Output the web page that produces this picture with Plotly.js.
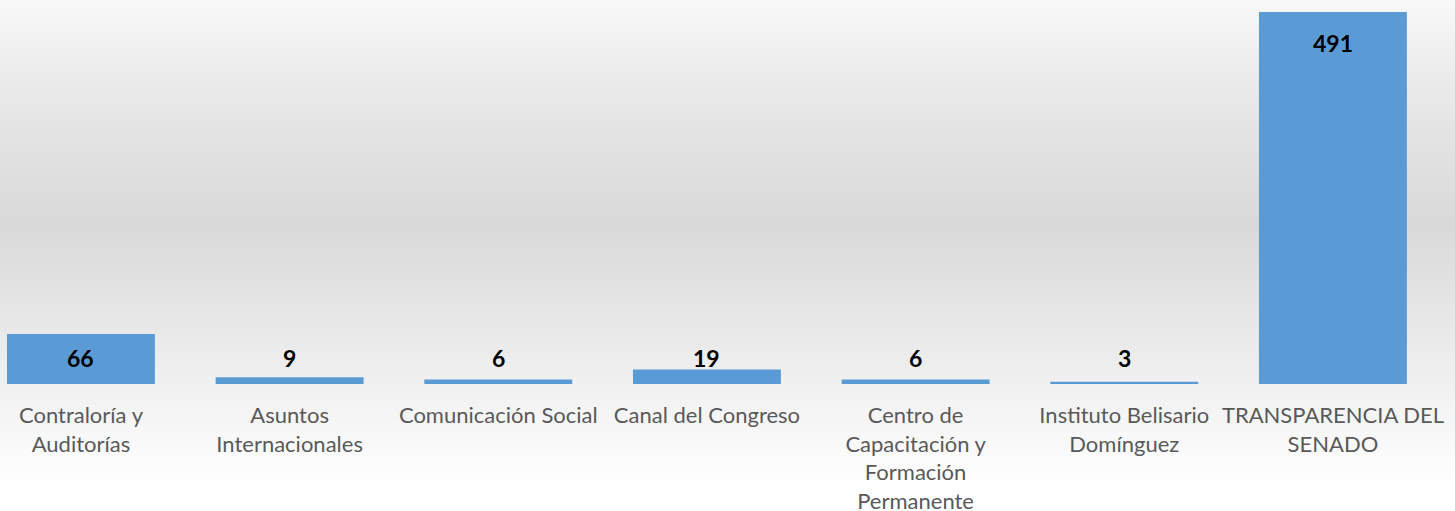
<!DOCTYPE html>
<html>
<head>
<meta charset="utf-8">
<script src="https://cdn.plot.ly/plotly-3.0.1.min.js"></script>
<style>
  html, body { margin: 0; padding: 0; }
  #plot {
    width: 1455px;
    height: 511px;
    background: linear-gradient(to bottom, #f8f8f8 0%, #e6e6e6 22%, #d9d9d9 44%, #e9e9e9 65%, #ffffff 95%);
  }
</style>
</head>
<body>
<div id="plot"></div>
<script>
(function (document, window) {

    // Categories and values
    var categorias = [
        'Contraloría y Auditorías',
        'Asuntos Internacionales',
        'Comunicación Social',
        'Canal del Congreso',
        'Centro de Capacitación y Formación Permanente',
        'Instituto Belisario Domínguez',
        'TRANSPARENCIA DEL SENADO'
    ];
    var etiquetas = [
        'Contraloría y<br>Auditorías',
        'Asuntos<br>Internacionales',
        'Comunicación Social',
        'Canal del Congreso',
        'Centro de<br>Capacitación y<br>Formación<br>Permanente',
        'Instituto Belisario<br>Domínguez',
        'TRANSPARENCIA DEL<br>SENADO'
    ];
    var valores = [66, 9, 6, 19, 6, 3, 491];

    var plotHeight = 511 - 12 - 127;
    var pxPerUnit = plotHeight / 491;

    // value labels: inside end, but never lower than near the baseline
    var notas = valores.map(function (v, i) {
        var y = Math.max(v - 31 / pxPerUnit, 26 / pxPerUnit);
        return {
            x: i, y: y, xref: 'x', yref: 'y',
            text: '<b>' + v + '</b>',
            showarrow: false,
            yanchor: 'middle',
            font: { family: 'Lato, sans-serif', size: 23, color: '#000000' }
        };
    });

    var layout = {
        width: 1455,
        height: 511,
        margin: { l: 0, r: 0, t: 12, b: 127 },
        paper_bgcolor: 'rgba(0,0,0,0)',
        plot_bgcolor: 'rgba(0,0,0,0)',
        showlegend: false,
        xaxis: {
            type: 'linear',
            range: [-0.388, 6.585],
            tickvals: [0, 1, 2, 3, 4, 5, 6],
            ticktext: etiquetas,
            showgrid: false,
            zeroline: false,
            showline: false,
            ticks: '',
            ticklabelstandoff: 16,
            tickfont: { family: 'Lato, sans-serif', size: 22, color: '#595959' }
        },
        yaxis: {
            range: [0, 491],
            visible: false,
            showgrid: false,
            zeroline: false
        },
        annotations: notas
    };

    var trace = {
        type: 'bar',
        x: [0, 1, 2, 3, 4, 5, 6],
        y: valores,
        width: 0.709,
        text: categorias,
        hoverinfo: 'text+y',
        textposition: 'none',
        marker: { color: '#5b9bd5' }
    };

    document.addEventListener('DOMContentLoaded', function () {
        Plotly.newPlot('plot', [trace], layout, { displayModeBar: false, staticPlot: true });
    });

})(document, window);
</script>
</body>
</html>
